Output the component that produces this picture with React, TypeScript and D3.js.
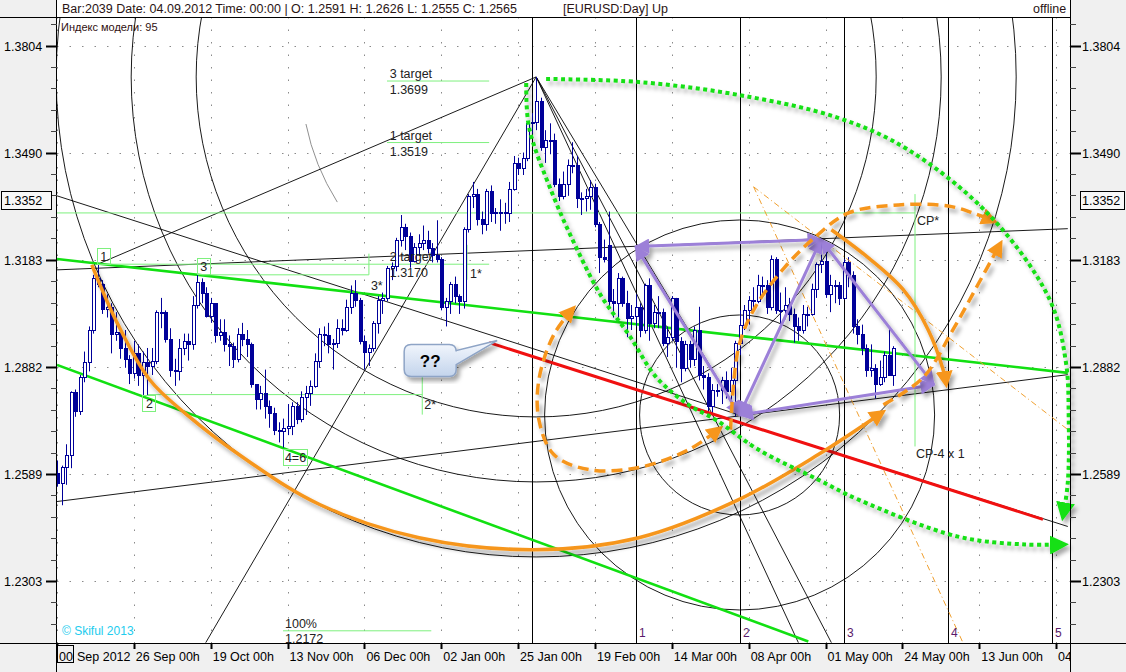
import React from "react";
import * as d3 from "d3";

const W = 1126, H = 672;
const L = 57, R = 1070, T = 17, B = 643;
const FONT = "'Liberation Sans', Arial, Helvetica, sans-serif";
const NAVY = "#000099";
const ORANGE = "#f6961e";
const PURPLE = "#9c80d8";
const GREEN = "#12e012";
const LGREEN = "#7ef07e";
const RED = "#f01010";

// Daily EURUSD bars from 04 Sep 2012 to 23 May 2013: [open, high, low, close]
const candles: number[][] = [
  [1.2591,1.2626,1.2555,1.2565],[1.2565,1.2612,1.2505,1.2608],[1.2608,1.2670,1.2560,1.2640],[1.2640,1.2815,1.2605,1.2812],
  [1.2812,1.2820,1.2745,1.2762],[1.2762,1.2860,1.2750,1.2855],[1.2855,1.2925,1.2840,1.2895],[1.2895,1.2995,1.2870,1.2985],
  [1.2985,1.3140,1.2975,1.3130],[1.3130,1.3170,1.3105,1.3115],[1.3115,1.3125,1.3030,1.3045],[1.3045,1.3085,1.3020,1.3050],
  [1.3050,1.3060,1.2920,1.2975],[1.2975,1.3035,1.2955,1.2980],[1.2980,1.2990,1.2905,1.2935],[1.2935,1.2985,1.2880,1.2905],
  [1.2905,1.2915,1.2835,1.2865],[1.2865,1.2955,1.2850,1.2920],[1.2920,1.2945,1.2830,1.2860],
  [1.2860,1.2925,1.2805,1.2895],[1.2895,1.2935,1.2805,1.2885],[1.2885,1.2935,1.2860,1.2900],[1.2900,1.3040,1.2890,1.3035],
  [1.3035,1.3075,1.2990,1.3035],[1.3035,1.3040,1.2950,1.2960],[1.2960,1.2990,1.2855,1.2875],[1.2875,1.2905,1.2830,1.2870],
  [1.2870,1.2960,1.2845,1.2935],[1.2935,1.2975,1.2915,1.2955],[1.2955,1.2975,1.2900,1.2945],[1.2945,1.3080,1.2930,1.3055],
  [1.3055,1.3140,1.3045,1.3120],[1.3120,1.3130,1.3060,1.3090],[1.3090,1.3105,1.3020,1.3025],[1.3025,1.3075,1.3005,1.3060],
  [1.3060,1.3060,1.2950,1.2970],[1.2970,1.3015,1.2955,1.2980],[1.2980,1.3015,1.2925,1.2945],[1.2945,1.2970,1.2885,1.2940],
  [1.2940,1.2950,1.2880,1.2905],[1.2905,1.2990,1.2895,1.2975],[1.2975,1.3005,1.2940,1.2960],
  [1.2960,1.2985,1.2910,1.2945],[1.2945,1.2950,1.2825,1.2835],[1.2835,1.2835,1.2765,1.2795],[1.2795,1.2830,1.2765,1.2810],
  [1.2810,1.2875,1.2740,1.2775],[1.2775,1.2790,1.2715,1.2755],[1.2755,1.2770,1.2695,1.2710],[1.2710,1.2730,1.2675,1.2705],
  [1.2705,1.2740,1.2661,1.2715],[1.2715,1.2780,1.2695,1.2720],[1.2720,1.2785,1.2695,1.2775],[1.2775,1.2785,1.2725,1.2740],
  [1.2740,1.2815,1.2730,1.2800],[1.2800,1.2830,1.2750,1.2810],[1.2810,1.2845,1.2775,1.2830],[1.2830,1.2920,1.2825,1.2900],
  [1.2900,1.2990,1.2880,1.2975],[1.2975,1.2995,1.2940,1.2970],[1.2970,1.3005,1.2920,1.2945],[1.2945,1.2960,1.2875,1.2950],
  [1.2950,1.3015,1.2935,1.2990],[1.2990,1.3015,1.2970,1.2985],
  [1.2985,1.3070,1.2980,1.3050],[1.3050,1.3110,1.3030,1.3090],[1.3090,1.3125,1.3050,1.3070],[1.3070,1.3075,1.2945,1.2955],
  [1.2955,1.2970,1.2875,1.2925],[1.2925,1.2945,1.2885,1.2935],[1.2935,1.3010,1.2925,1.3005],[1.3005,1.3080,1.2975,1.3070],
  [1.3070,1.3090,1.3030,1.3075],[1.3075,1.3165,1.3065,1.3160],[1.3160,1.3175,1.3125,1.3165],[1.3165,1.3245,1.3150,1.3240],
  [1.3240,1.3310,1.3220,1.3275],[1.3275,1.3285,1.3210,1.3250],[1.3250,1.3260,1.3160,1.3180],[1.3180,1.3230,1.3175,1.3220],
  [1.3220,1.3255,1.3195,1.3230],[1.3230,1.3280,1.3210,1.3240],[1.3240,1.3265,1.3200,1.3215],[1.3215,1.3230,1.3175,1.3195],
  [1.3195,1.3295,1.3175,1.3185],[1.3185,1.3190,1.3040,1.3050],[1.3050,1.3075,1.2995,1.3065],[1.3065,1.3120,1.3030,1.3115],
  [1.3115,1.3135,1.3060,1.3080],[1.3080,1.3085,1.3030,1.3065],[1.3065,1.3275,1.3045,1.3270],[1.3270,1.3370,1.3260,1.3365],
  [1.3365,1.3405,1.3330,1.3370],[1.3370,1.3385,1.3280,1.3300],[1.3300,1.3320,1.3255,1.3285],[1.3285,1.3385,1.3265,1.3380],
  [1.3380,1.3395,1.3290,1.3315],[1.3315,1.3330,1.3285,1.3320],[1.3320,1.3355,1.3265,1.3320],[1.3320,1.3345,1.3285,1.3315],
  [1.3315,1.3405,1.3290,1.3385],[1.3385,1.3480,1.3380,1.3460],[1.3460,1.3475,1.3425,1.3445],[1.3445,1.3490,1.3425,1.3475],
  [1.3475,1.3580,1.3465,1.3575],[1.3575,1.3605,1.3545,1.3580],[1.3580,1.3711,1.3555,1.3640],
  [1.3640,1.3650,1.3495,1.3505],[1.3505,1.3555,1.3460,1.3525],[1.3525,1.3575,1.3485,1.3525],[1.3525,1.3545,1.3390,1.3400],
  [1.3400,1.3415,1.3350,1.3365],[1.3365,1.3435,1.3355,1.3400],[1.3400,1.3470,1.3365,1.3455],[1.3455,1.3520,1.3430,1.3455],
  [1.3455,1.3480,1.3330,1.3360],[1.3360,1.3375,1.3310,1.3360],[1.3360,1.3385,1.3320,1.3365],[1.3365,1.3410,1.3325,1.3390],
  [1.3390,1.3400,1.3275,1.3285],[1.3285,1.3290,1.3145,1.3190],[1.3190,1.3240,1.3175,1.3185],[1.3225,1.3320,1.3045,1.3065],
  [1.3065,1.3100,1.3020,1.3060],[1.3060,1.3145,1.3020,1.3130],[1.3130,1.3135,1.3050,1.3060],
  [1.3060,1.3095,1.2965,1.3020],[1.3020,1.3055,1.2985,1.3025],[1.3025,1.3085,1.2995,1.3050],[1.3050,1.3060,1.2965,1.2985],
  [1.2985,1.3115,1.2975,1.3110],[1.3110,1.3130,1.2955,1.3005],[1.3005,1.3055,1.2990,1.3035],[1.3035,1.3080,1.2990,1.3035],
  [1.3035,1.3045,1.2940,1.2950],[1.2950,1.2995,1.2910,1.2965],[1.2965,1.3080,1.2955,1.3075],[1.3075,1.3075,1.2880,1.2955],
  [1.2955,1.2965,1.2840,1.2880],[1.2880,1.2955,1.2870,1.2945],[1.2945,1.2955,1.2880,1.2905],[1.2905,1.2995,1.2885,1.2985],
  [1.2985,1.3050,1.2845,1.2860],[1.2860,1.2885,1.2820,1.2855],[1.2855,1.2865,1.2750,1.2775],[1.2775,1.2835,1.2750,1.2820],
  [1.2820,1.2835,1.2800,1.2820],
  [1.2820,1.2855,1.2780,1.2845],[1.2845,1.2870,1.2795,1.2815],[1.2815,1.2880,1.2790,1.2845],[1.2845,1.2955,1.2745,1.2950],
  [1.2950,1.3040,1.2915,1.3000],[1.3000,1.3055,1.2985,1.3040],[1.3040,1.3080,1.3000,1.3070],[1.3070,1.3105,1.3040,1.3065],
  [1.3065,1.3140,1.3060,1.3110],[1.3110,1.3135,1.3075,1.3110],[1.3110,1.3125,1.3030,1.3050],[1.3050,1.3195,1.3040,1.3185],
  [1.3185,1.3190,1.3030,1.3040],[1.3040,1.3090,1.3000,1.3040],[1.3040,1.3105,1.3015,1.3055],[1.3055,1.3075,1.3010,1.3030],
  [1.3030,1.3045,1.2950,1.2995],[1.2995,1.3020,1.2955,1.2985],[1.2985,1.3055,1.2975,1.3030],[1.3030,1.3050,1.2995,1.3030],
  [1.3030,1.3115,1.3025,1.3100],[1.3100,1.3175,1.3075,1.3170],
  [1.3170,1.3243,1.3145,1.3180],[1.3180,1.3215,1.3075,1.3085],[1.3085,1.3140,1.3035,1.3110],[1.3110,1.3125,1.3060,1.3110],
  [1.3110,1.3120,1.3055,1.3075],[1.3075,1.3185,1.3070,1.3175],[1.3175,1.3190,1.3105,1.3140],[1.3140,1.3150,1.2975,1.2995],
  [1.2995,1.3015,1.2945,1.2975],[1.2975,1.3000,1.2915,1.2935],[1.2935,1.2945,1.2855,1.2875],[1.2875,1.2945,1.2855,1.2880],
  [1.2880,1.2890,1.2795,1.2835],[1.2835,1.2900,1.2830,1.2855],[1.2855,1.2925,1.2840,1.2915],[1.2915,1.2995,1.2875,1.2860],
  [1.2860,1.2940,1.2830,1.2935],
];

// first label is partly hidden behind the "00" cursor box, only "Sep 2012" shows
const xTickLabels = ["Sep 2012","26 Sep 00h","19 Oct 00h","13 Nov 00h","06 Dec 00h","02 Jan 00h","25 Jan 00h",
  "19 Feb 00h","14 Mar 00h","08 Apr 00h","01 May 00h","24 May 00h","13 Jun 00h","04"];
const xTickStep = 17;
const yTicks = [1.3804, 1.3490, 1.3183, 1.2882, 1.2589, 1.2303];
const markedPrice = 1.3352;

// time-cycle verticals (bar index) and their numbers
const cycleBars = [105, 128, 151, 174, 197, 220];
const cycleLabels = ["", "1", "2", "3", "4", "5"];

// anchors [bar, price]
const peak: [number, number] = [106, 1.3711];
const low: [number, number] = [151, 1.2750];
const ptLeft: [number, number] = [128, 1.3220];
const ptTop: [number, number] = [169, 1.3240];
const ptRight: [number, number] = [194, 1.2833];

const peakCircleRadii = [340, 405, 480];
const lowCircleRadii = [100, 195];

const blackLines: number[][] = [
  [0, 1.3365, 151, 1.2750],
  [0, 1.3154, 223.6, 1.3271],
  [0, 1.2515, 223.6, 1.2861],
  [9, 1.3170, 106, 1.3711],
  [106, 1.3711, 151, 1.2750],
  [106, 1.3711, 164, 1.2141],
  [106, 1.3711, 171.3, 1.2141],
  [106, 1.3711, 32.9, 1.2141],
  [95.6, 1.2950, 223.6, 1.2448],
];
const greenTrend: number[][] = [
  [0, 1.3185, 223.6, 1.2866],
  [0, 1.2888, 166.2, 1.2144],
];
const redLine = [95.6, 1.2950, 218.1, 1.2467];
const thinOrange: number[][] = [
  [154.1, 1.3391, 223.6, 1.2710],
  [154.1, 1.3391, 200.4, 1.2141],
];

const targets = [
  { name: "3 target", value: 1.3699 },
  { name: "1 target", value: 1.3519 },
  { name: "2 target", value: 1.3170 },
];
const fib100 = { name: "100%", value: 1.2172 };

// light green marker segments [bar1, price1, bar2, price2]
const markerLines: number[][] = [
  [9, 1.3170, 95.6, 1.3170],
  [73, 1.3699, 95.6, 1.3699],
  [73, 1.3519, 95.6, 1.3519],
  [32, 1.3140, 69, 1.3140],
  [69, 1.3200, 69, 1.3140],
  [20, 1.2806, 80.8, 1.2806],
  [80.8, 1.2866, 80.8, 1.2751],
  [90.7, 1.3225, 90.7, 1.3126],
  [0, 1.3316, 189.8, 1.3316],
  [189.8, 1.3370, 189.8, 1.2664],
  [50, 1.2172, 82.8, 1.2172],
];

const boxLabels = [
  { text: "1", i: 9, p: 1.3170, dx: -1, dy: -16, w: 13 },
  { text: "3", i: 32, p: 1.3140, dx: -5, dy: -17, w: 13 },
  { text: "2", i: 20, p: 1.2806, dx: -5, dy: 0, w: 13 },
  { text: "4=6", i: 50, p: 1.2661, dx: 0, dy: 1, w: 24 },
];
const plainLabels = [
  { text: "3*", i: 69, p: 1.3140, dx: 2, dy: 15 },
  { text: "2*", i: 80.8, p: 1.2806, dx: 2, dy: 14 },
  { text: "1*", i: 90.7, p: 1.3170, dx: 3, dy: 14 },
  { text: "CP*", i: 189.8, p: 1.3316, dx: 2, dy: 12 },
  { text: "CP-4 x 1", i: 189.8, p: 1.2664, dx: 1, dy: 12 },
];

const orangeArcMain: [number, number][] = [[7.7,1.3168],[13.3,1.3005],[20.5,1.2847],[28.7,1.2751],[41.9,1.2628],[58.1,1.2507],[80.1,1.2418],[105.5,1.2386],[128.7,1.2418],[150.8,1.2520],[168.4,1.2642],[182.8,1.2759]];
const orangeArcRight: [number, number][] = [[171.3,1.3268],[179.5,1.3188],[187.2,1.3098],[192.7,1.2986],[196.0,1.2875],[196.7,1.2833]];
const orangeDashLeft: [number, number][] = [[114.3,1.3047],[109.9,1.2972],[106.6,1.2847],[106.6,1.2737],[109.9,1.2642],[117.7,1.2601],[128.7,1.2607],[139.7,1.2655],[146.8,1.2715]];
const orangeDashTop: [number, number][] = [[149.0,1.2710],[150.8,1.2938],[154.5,1.3050],[161.1,1.3163],[167.8,1.3248],[175.1,1.3316],[186.1,1.3339],[197.1,1.3336],[202.6,1.3316],[207.5,1.3291]];
const orangeDashRight: [number, number][] = [[182.8,1.2778],[191.6,1.2853],[198.2,1.2986],[203.7,1.3112],[208.8,1.3231]];
const greenDotTop: [number, number][] = [[108.2,1.3705],[128.7,1.3696],[150.8,1.3658],[172.8,1.3591],[188.3,1.3498],[206.6,1.3305],[219.6,1.3070],[223.2,1.2894],[223.8,1.2745],[223.6,1.2566],[222.5,1.2472]];
const greenDotLow: [number, number][] = [[103.8,1.3693],[104.4,1.3565],[109.5,1.3374],[114.8,1.3219],[120.5,1.3078],[126.5,1.2972],[132.5,1.2855],[139.7,1.2778],[145.7,1.2737],[155.2,1.2655],[168.4,1.2574],[177.3,1.2520],[199.3,1.2421],[214.1,1.2400],[223.0,1.2400]];

const headerText = "Bar:2039 Date: 04.09.2012 Time: 00:00 | O: 1.2591 H: 1.2626 L: 1.2555 C: 1.2565";
const headerSymbol = "[EURUSD:Day] Up";

export default function App() {
  const x = d3.scaleLinear().domain([0, xTickStep]).range([L, L + 76.85]);
  const y = d3.scaleLog().domain([1.2303, 1.3804]).range([581, 45.5]);
  const curve = d3.line<[number, number]>().x(d => x(d[0])).y(d => y(d[1])).curve(d3.curveCatmullRom.alpha(0.5));

  // y ticks: majors plus 4 geometric minors between them
  const step = Math.pow(yTicks[0] / yTicks[1], 1 / 5);
  const minor: number[] = [];
  for (let k = 0; k < yTicks.length - 1; k++)
    for (let j = 1; j < 5; j++) minor.push(yTicks[k] / Math.pow(yTicks[k] / yTicks[k + 1], j / 5));
  minor.push(yTicks[0] * step, yTicks[5] / step, yTicks[5] / step / step);

  const xTicks = xTickLabels.map((lab, k) => ({ lab, px: x(k * xTickStep) }));
  const [px, py] = [x(peak[0]), y(peak[1])];
  const [lx, ly] = [x(low[0]), y(low[1])];

  const seg = (s: number[], props: any, key: any) => (
    <line key={key} x1={x(s[0])} y1={y(s[1])} x2={x(s[2])} y2={y(s[3])} {...props} />
  );
  const arrow = (a: [number, number], b: [number, number], key: any) => (
    <line key={key} x1={x(a[0])} y1={y(a[1])} x2={x(b[0])} y2={y(b[1])} stroke={PURPLE} strokeWidth={3}
      markerStart="url(#mPu)" markerEnd="url(#mPu)" />
  );

  // gray partial arc around the peak
  const ga = d3.path();
  ga.arc(px, py, 235, 2.58, 2.94);

  // callout anchored at red line start
  const ax = x(redLine[0]), ay = y(redLine[1]);
  const bx0 = ax - 85, bx1 = ax - 33, by0 = ay + 2, by1 = ay + 34, rr = 7;
  const callout = `M${bx0 + rr},${by0} L${bx1 - rr},${by0} Q${bx1},${by0} ${bx1},${by0 + rr} L${bx1},${by0 + 6} L${ax + 8},${ay - 2} L${bx1},${by0 + 20} L${bx1},${by1 - rr} Q${bx1},${by1} ${bx1 - rr},${by1} L${bx0 + rr},${by1} Q${bx0},${by1} ${bx0},${by1 - rr} L${bx0},${by0 + rr} Q${bx0},${by0} ${bx0 + rr},${by0} Z`;

  return (
    <svg width={W} height={H} viewBox={`0 0 ${W} ${H}`}
      style={{ position: "fixed", left: 0, top: 0, display: "block", fontFamily: FONT }}>
      <defs>
        <clipPath id="plotClip"><rect x={L} y={T} width={R - L} height={B - T} /></clipPath>
        <filter id="sh" x="-20%" y="-20%" width="140%" height="140%">
          <feDropShadow dx="3" dy="4" stdDeviation="2.2" floodColor="#000" floodOpacity="0.35" />
        </filter>
        <linearGradient id="cg" x1="0" y1="0" x2="0" y2="1">
          <stop offset="0" stopColor="#f6f9fe" />
          <stop offset="1" stopColor="#c3d4ec" />
        </linearGradient>
        <marker id="mOr" viewBox="0 0 10 10" refX="8" refY="5" markerWidth="17" markerHeight="17" markerUnits="userSpaceOnUse" orient="auto-start-reverse">
          <path d="M0,0L10,5L0,10z" fill={ORANGE} />
        </marker>
        <marker id="mPu" viewBox="0 0 10 10" refX="9" refY="5" markerWidth="17" markerHeight="15" markerUnits="userSpaceOnUse" orient="auto-start-reverse">
          <path d="M0,0L10,5L0,10z" fill={PURPLE} />
        </marker>
        <marker id="mGr" viewBox="0 0 10 10" refX="8" refY="5" markerWidth="19" markerHeight="19" markerUnits="userSpaceOnUse" orient="auto-start-reverse">
          <path d="M0,0L10,5L0,10z" fill={GREEN} />
        </marker>
      </defs>

      {/* backgrounds */}
      <rect x={0} y={0} width={W} height={H} fill="#f0f0f0" />
      <rect x={L} y={0} width={R - L} height={B} fill="#ffffff" />

      {/* header */}
      <text x={62} y={13} fontSize={12.5} fill="#2a1414">{headerText}</text>
      <text x={563} y={13} fontSize={12.5} fill="#2a1414">{headerSymbol}</text>
      <text x={1033} y={13} fontSize={12.5} fill="#2a1414">offline</text>

      <g clipPath="url(#plotClip)">
        {/* grid */}
        {yTicks.map((t, k) => (
          <line key={"gy" + k} x1={L} x2={R} y1={Math.round(y(t)) + 0.5} y2={Math.round(y(t)) + 0.5} stroke="#8a8a8a" strokeDasharray="1.5,11" />
        ))}
        {xTicks.map((t, k) => (
          <line key={"gx" + k} x1={Math.round(t.px) + 0.5} x2={Math.round(t.px) + 0.5} y1={T} y2={B} stroke="#8a8a8a" strokeDasharray="1.5,11" />
        ))}

        {/* circles and black construction lines */}
        {peakCircleRadii.map((r, k) => <circle key={"pc" + k} cx={px} cy={py} r={r} fill="none" stroke="#000" strokeWidth={0.9} />)}
        {lowCircleRadii.map((r, k) => <circle key={"lc" + k} cx={lx} cy={ly} r={r} fill="none" stroke="#000" strokeWidth={0.9} />)}
        <path d={ga.toString()} fill="none" stroke="#909090" strokeWidth={1} />
        {cycleBars.map((b, k) => (
          <line key={"cv" + k} x1={Math.round(x(b)) + 0.5} x2={Math.round(x(b)) + 0.5} y1={T} y2={B} stroke="#000" strokeWidth={1} />
        ))}
        {blackLines.map((s, k) => seg(s, { stroke: "#000", strokeWidth: 0.9 }, "bl" + k))}

        {/* green trend lines */}
        {greenTrend.map((s, k) => seg(s, { stroke: GREEN, strokeWidth: 2.6 }, "gt" + k))}

        {/* light green markers */}
        {markerLines.map((s, k) => seg(s, { stroke: LGREEN, strokeWidth: 1 }, "ml" + k))}

        {/* candles */}
        {candles.map((c, i) => {
          const [o, h, l, cl] = c;
          const cx = Math.round(x(i));
          const up = cl >= o;
          const yt = Math.round(y(Math.max(o, cl)));
          const yb = Math.round(y(Math.min(o, cl)));
          return (
            <g key={"c" + i}>
              <line x1={cx + 0.5} x2={cx + 0.5} y1={y(h)} y2={y(l)} stroke={NAVY} strokeWidth={1} />
              <rect x={cx - 0.5} y={yt + 0.5} width={3} height={Math.max(1, yb - yt)} fill={up ? "#ffffff" : NAVY} stroke={NAVY} strokeWidth={1} />
            </g>
          );
        })}

        {/* thin orange dash-dot lines */}
        {thinOrange.map((s, k) => seg(s, { stroke: "#f0a030", strokeWidth: 1, strokeDasharray: "6,3,1,3" }, "to" + k))}

        {/* red line */}
        {seg(redLine, { stroke: RED, strokeWidth: 3 }, "red")}

        {/* target labels */}
        {targets.map((t, k) => (
          <g key={"tg" + k} fontSize={12.5} fill="#222">
            <text x={x(73.6)} y={y(t.value) - 3}>{t.name}</text>
            <text x={x(73.6)} y={y(t.value) + 13}>{t.value.toFixed(4)}</text>
          </g>
        ))}
        <g fontSize={12.5} fill="#222">
          <text x={x(50) + 2} y={y(fib100.value) - 3}>{fib100.name}</text>
          <text x={x(50) + 2} y={y(fib100.value) + 12}>{fib100.value.toFixed(4)}</text>
        </g>
      </g>

      {/* labels with boxes */}
      {boxLabels.map((b, k) => {
        const bx = x(b.i) + b.dx, by = y(b.p) + b.dy;
        return (
          <g key={"bx" + k}>
            <rect x={Math.round(bx) + 0.5} y={Math.round(by) + 0.5} width={b.w} height={16} fill="none" stroke={LGREEN} strokeWidth={1} />
            <text x={bx + b.w / 2 + 0.5} y={by + 13} fontSize={12.5} textAnchor="middle" fill="#222">{b.text}</text>
          </g>
        );
      })}
      {plainLabels.map((b, k) => (
        <text key={"pl" + k} x={x(b.i) + b.dx} y={y(b.p) + b.dy} fontSize={12.5} fill="#222">{b.text}</text>
      ))}

      {/* purple arrows */}
      <g filter="url(#sh)">
        {arrow(ptLeft, low, "pa1")}
        {arrow(ptLeft, ptTop, "pa2")}
        {arrow(low, ptTop, "pa3")}
        {arrow(ptTop, ptRight, "pa4")}
        {arrow(low, ptRight, "pa5")}
      </g>

      {/* orange arcs */}
      <g filter="url(#sh)" fill="none" stroke={ORANGE} strokeWidth={3.5}>
        <path d={curve(orangeArcMain) || ""} markerEnd="url(#mOr)" />
        <path d={curve(orangeArcRight) || ""} markerEnd="url(#mOr)" />
        <path d={curve(orangeDashLeft) || ""} strokeDasharray="11,6" markerStart="url(#mOr)" markerEnd="url(#mOr)" />
        <path d={curve(orangeDashTop) || ""} strokeDasharray="11,6" markerEnd="url(#mOr)" />
        <path d={curve(orangeDashRight) || ""} strokeDasharray="11,6" markerEnd="url(#mOr)" />
      </g>

      {/* green dotted arcs */}
      <g filter="url(#sh)" fill="none" stroke={GREEN} strokeWidth={4}>
        <path d={curve(greenDotTop) || ""} strokeDasharray="4,3.5" markerEnd="url(#mGr)" />
        <path d={curve(greenDotLow) || ""} strokeDasharray="4,3.5" markerEnd="url(#mGr)" />
      </g>

      {/* callout */}
      <g filter="url(#sh)">
        <path d={callout} fill="url(#cg)" stroke="#8ea4c6" strokeWidth={1.5} />
      </g>
      <text x={(bx0 + bx1) / 2} y={by0 + 22} fontSize={17} fontWeight="bold" textAnchor="middle" fill="#000">??</text>

      {/* cycle numbers */}
      {cycleBars.map((b, k) => cycleLabels[k] ? (
        <text key={"cn" + k} x={Math.round(x(b)) + 3} y={637} fontSize={12} fill="#5a1a6a">{cycleLabels[k]}</text>
      ) : null)}

      <text x={61} y={31} fontSize={11} fill="#301010">Индекс модели: 95</text>
      <text x={62} y={635} fontSize={12} fill="#22ccee">© Skiful 2013</text>

      {/* frame */}
      <line x1={0} x2={R} y1={T + 0.5} y2={T + 0.5} stroke="#000" />
      <line x1={L - 0.5} x2={L - 0.5} y1={0} y2={H} stroke="#000" />
      <line x1={R + 0.5} x2={R + 0.5} y1={0} y2={H} stroke="#000" />
      <line x1={0} x2={W} y1={B + 0.5} y2={B + 0.5} stroke="#000" />

      {/* y axes */}
      {yTicks.map((t, k) => {
        const ty = Math.round(y(t)) + 0.5;
        return (
          <g key={"yt" + k}>
            <line x1={L - 11} x2={L} y1={ty} y2={ty} stroke="#000" strokeWidth={2} />
            <line x1={R} x2={R + 11} y1={ty} y2={ty} stroke="#000" strokeWidth={2} />
            <text x={4} y={ty + 4.5} fontSize={12.5} fill="#000">{t.toFixed(4)}</text>
            <text x={R + 12} y={ty + 4.5} fontSize={12.5} fill="#000">{t.toFixed(4)}</text>
          </g>
        );
      })}
      {minor.map((t, k) => {
        const ty = Math.round(y(t)) + 0.5;
        return (
          <g key={"ym" + k}>
            <line x1={L - 6} x2={L} y1={ty} y2={ty} stroke="#444" />
            <line x1={R} x2={R + 6} y1={ty} y2={ty} stroke="#444" />
          </g>
        );
      })}
      {(() => {
        const ty = Math.round(y(markedPrice)) + 0.5;
        return (
          <g>
            <rect x={1.5} y={ty - 9} width={50} height={18} fill="#f8f8f8" stroke="#000" />
            <text x={4} y={ty + 4.5} fontSize={12.5}>{markedPrice.toFixed(4)}</text>
            <rect x={R + 10.5} y={ty - 9} width={44} height={18} fill="#f8f8f8" stroke="#000" />
            <text x={R + 12} y={ty + 4.5} fontSize={12.5}>{markedPrice.toFixed(4)}</text>
          </g>
        );
      })()}

      {/* x axis */}
      {xTicks.map((t, k) => (
        <g key={"xt" + k}>
          <line x1={Math.round(t.px) + 0.5} x2={Math.round(t.px) + 0.5} y1={B} y2={B + 6} stroke="#000" strokeWidth={2} />
          {t.px < R - 5 ? <text x={k === 0 ? t.px + 20 : t.px + 2} y={661} fontSize={12.5} fill="#000">{t.lab}</text> : null}
        </g>
      ))}
      <rect x={W - 56} y={B + 1} width={56} height={H - B} fill="#f0f0f0" />
      <line x1={R + 0.5} x2={R + 0.5} y1={B} y2={H} stroke="#000" />
      <rect x={L + 0.5} y={B + 2.5} width={16} height={17} fill="#f0f0f0" stroke="#000" />
      <text x={L + 2} y={661} fontSize={12.5}>00</text>
    </svg>
  );
}
